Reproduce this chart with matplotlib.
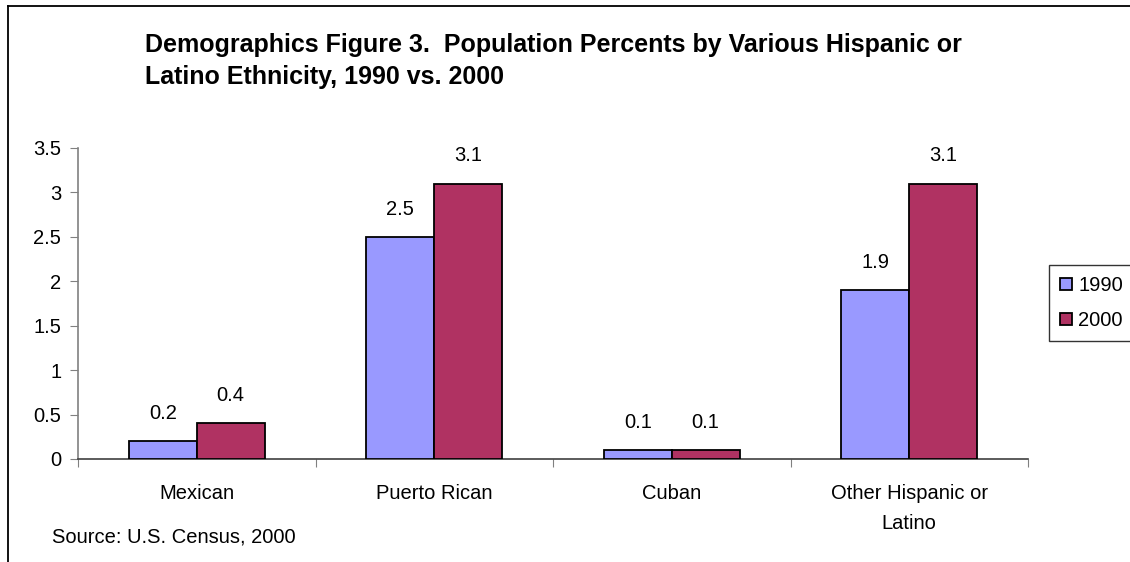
import matplotlib
matplotlib.use("Agg")
import matplotlib.pyplot as plt
from matplotlib.lines import Line2D
from matplotlib.patches import Patch

plt.rcParams['font.family'] = ['Liberation Sans', 'DejaVu Sans']

categories = ["Mexican", "Puerto Rican", "Cuban", "Other Hispanic or\nLatino"]
years = ["1990", "2000"]
values_1990 = [0.2, 2.5, 0.1, 1.9]
values_2000 = [0.4, 3.1, 0.1, 3.1]
y_ticks = [0, 0.5, 1, 1.5, 2, 2.5, 3, 3.5]
y_tick_labels = ["0", "0.5", "1", "1.5", "2", "2.5", "3", "3.5"]

color_1990 = "#9999FF"
color_2000 = "#B03262"

FS = 14.5  # body text size

W, H = 1130, 562
fig = plt.figure(figsize=(W / 100, H / 100), dpi=100)
fig.patch.set_facecolor("white")

# outer chart frame (top and left edges visible)
fig.add_artist(Line2D([8 / W, 1.0], [1 - 6 / H, 1 - 6 / H], color="black", lw=1.3))
fig.add_artist(Line2D([8 / W, 8 / W], [0, 1 - 6 / H], color="black", lw=1.3))

ax = fig.add_axes([78 / W, 1 - 459 / H, (1028 - 78) / W, (459 - 148) / H])

n = len(categories)
x = list(range(n))
bw = 1 / 3.5

bars1 = ax.bar([i - bw / 2 for i in x], values_1990, width=bw, color=color_1990,
               edgecolor="black", linewidth=1.3, label=years[0], zorder=3)
bars2 = ax.bar([i + bw / 2 for i in x], values_2000, width=bw, color=color_2000,
               edgecolor="black", linewidth=1.3, label=years[1], zorder=3)

for bars, vals in ((bars1, values_1990), (bars2, values_2000)):
    for b, v in zip(bars, vals):
        ax.annotate(f"{v:g}", (b.get_x() + b.get_width() / 2, v),
                    xytext=(0, 16), textcoords="offset points",
                    ha="center", va="baseline", fontsize=FS)

ax.set_xlim(-0.5, n - 0.5)
ax.set_ylim(0, 3.5)

ax.set_yticks(y_ticks)
ax.set_yticklabels(y_tick_labels, fontsize=FS)

ax.set_xticks([i - 0.5 for i in range(n + 1)])
ax.set_xticklabels([""] * (n + 1))
ax.set_xticks(x, minor=True)
ax.set_xticklabels(categories, minor=True, fontsize=FS, linespacing=1.75)
ax.tick_params(axis="x", which="major", length=6, color="#808080", direction="out")
ax.tick_params(axis="x", which="minor", length=0, pad=18)
ax.tick_params(axis="y", length=6, color="#808080", direction="out", pad=6)

for s in ("top", "right"):
    ax.spines[s].set_visible(False)
ax.spines["left"].set_color("#808080")
ax.spines["bottom"].set_color("#404040")
ax.spines["left"].set_linewidth(1.2)
ax.spines["bottom"].set_linewidth(1.2)

fig.text(145 / W, 1 - 61 / H,
         "Demographics Figure 3.  Population Percents by Various Hispanic or\n"
         "Latino Ethnicity, 1990 vs. 2000",
         ha="left", va="center", fontsize=18, fontweight="bold", linespacing=1.4)

fig.text(52 / W, 1 - 537 / H, "Source: U.S. Census, 2000",
         ha="left", va="center", fontsize=FS)

handles = [Patch(facecolor=color_1990, edgecolor="black", linewidth=1.3),
           Patch(facecolor=color_2000, edgecolor="black", linewidth=1.3)]
leg = fig.legend(handles, years, loc="upper left",
                 bbox_to_anchor=(1049 / W, 1 - 265 / H), fontsize=FS,
                 frameon=True, fancybox=False, edgecolor="black",
                 handlelength=0.6, handleheight=0.6, handletextpad=0.3,
                 labelspacing=0.8, borderpad=0.55, borderaxespad=0)
leg.get_frame().set_linewidth(1.0)

fig.savefig("out.png", dpi=100, facecolor="white")
